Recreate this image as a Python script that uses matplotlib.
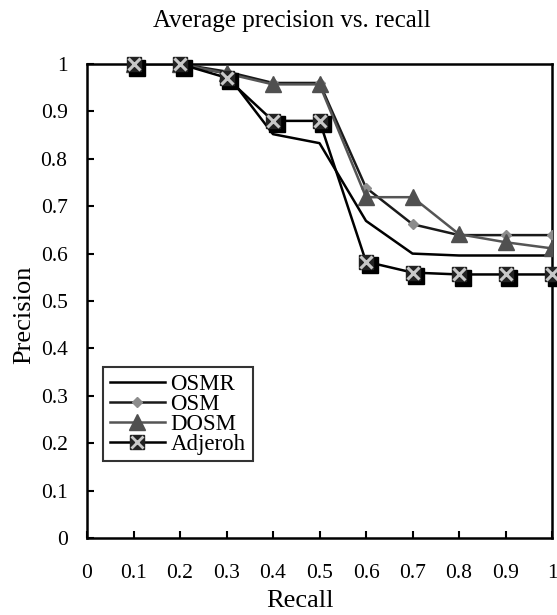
import matplotlib
matplotlib.use("Agg")
import matplotlib.pyplot as plt
import matplotlib.transforms as mtransforms
from matplotlib.lines import Line2D

recall = [0.1, 0.2, 0.3, 0.4, 0.5, 0.6, 0.7, 0.8, 0.9, 1.0]
osmr = [1.0, 1.0, 0.98, 0.852, 0.833, 0.669, 0.600, 0.596, 0.596, 0.596]
osm = [1.0, 1.0, 0.984, 0.96, 0.96, 0.739, 0.662, 0.639, 0.639, 0.639]
dosm = [1.0, 1.0, 0.98, 0.957, 0.957, 0.719, 0.719, 0.641, 0.624, 0.611]
adjeroh = [1.0, 1.0, 0.971, 0.880, 0.880, 0.583, 0.560, 0.556, 0.556, 0.556]

series_names = ['OSMR', 'OSM', 'DOSM', 'Adjeroh']
xticks = [0, 0.1, 0.2, 0.3, 0.4, 0.5, 0.6, 0.7, 0.8, 0.9, 1]
xticklabels = ["0", "0.1", "0.2", "0.3", "0.4", "0.5", "0.6", "0.7", "0.8", "0.9", "1"]
yticks = [0, 0.1, 0.2, 0.3, 0.4, 0.5, 0.6, 0.7, 0.8, 0.9, 1]
yticklabels = ["0", "0.1", "0.2", "0.3", "0.4", "0.5", "0.6", "0.7", "0.8", "0.9", "1"]

plt.rcParams['font.family'] = ['Liberation Serif', 'DejaVu Serif']

W, H = 557, 615
fig = plt.figure(figsize=(W / 100, H / 100), dpi=100)
ax = fig.add_axes([87 / W, 1 - 538 / H, 465 / W, 474 / H])

ax.plot(recall, osmr, color='black', lw=1.8, zorder=3)
ax.plot(recall, osm, color='#1a1a1a', lw=1.8, marker='D', ms=5,
        mfc='#8c8c8c', mec='#8c8c8c', zorder=3)
ax.plot(recall, dosm, color='#555555', lw=1.8, marker='^', ms=11,
        mfc='#505050', mec='#505050', zorder=4)

# Adjeroh: black square with offset shadow and light x on top
ax.plot(recall, adjeroh, color='black', lw=1.8, zorder=5)
offset = mtransforms.ScaledTranslation(3.5 / 100, -3.5 / 100, fig.dpi_scale_trans)
ax.plot(recall, adjeroh, ls='none', marker='s', ms=11, mfc='black', mec='black',
        transform=ax.transData + offset, zorder=6, clip_on=False)
ax.plot(recall, adjeroh, ls='none', marker='s', ms=10, mfc='#222222', mec='#222222',
        zorder=6, clip_on=False)
ax.plot(recall, adjeroh, ls='none', marker='x', ms=9, mew=2.2, mec='#c8c8c8',
        zorder=7, clip_on=False)

handles = [
    Line2D([], [], color='black', lw=1.8),
    Line2D([], [], color='#1a1a1a', lw=1.8, marker='D', ms=5, mfc='#8c8c8c', mec='#8c8c8c'),
    Line2D([], [], color='#555555', lw=1.8, marker='^', ms=11, mfc='#505050', mec='#505050'),
    (Line2D([], [], color='black', lw=1.8, marker='s', ms=10, mfc='#222222', mec='#222222'),
     Line2D([], [], ls='none', marker='x', ms=8, mew=2, mec='#c8c8c8')),
]
leg = ax.legend(handles, series_names,
                loc='upper left', bbox_to_anchor=(16 / 465, (538 - 367) / 474),
                frameon=True, fancybox=False, fontsize=16.5, handlelength=2.4,
                handletextpad=0.25, labelspacing=-0.05, borderpad=0.3,
                borderaxespad=0)
leg.get_frame().set_edgecolor('black')
leg.get_frame().set_linewidth(1.5)

ax.set_xlim(0, 1)
ax.set_ylim(0, 1)
ax.set_xticks(xticks)
ax.set_xticklabels(xticklabels)
ax.set_yticks(yticks)
ax.set_yticklabels(yticklabels)
ax.tick_params(direction='in', length=5, width=1.5, labelsize=15.5, colors='black')
ax.tick_params(axis='x', pad=19)
ax.tick_params(axis='y', pad=14)
for s in ax.spines.values():
    s.set_linewidth(1.8)

fig.text(300 / W, 1 - 601 / H, 'Recall', fontsize=19, ha='center', va='center')
fig.text(24 / W, 1 - 315 / H, 'Precision', fontsize=19, ha='center', va='center',
         rotation=90)
fig.text(292 / W, 1 - 21 / H, 'Average precision vs. recall', fontsize=18,
         ha='center', va='center')

fig.savefig('out.png', dpi=100)
